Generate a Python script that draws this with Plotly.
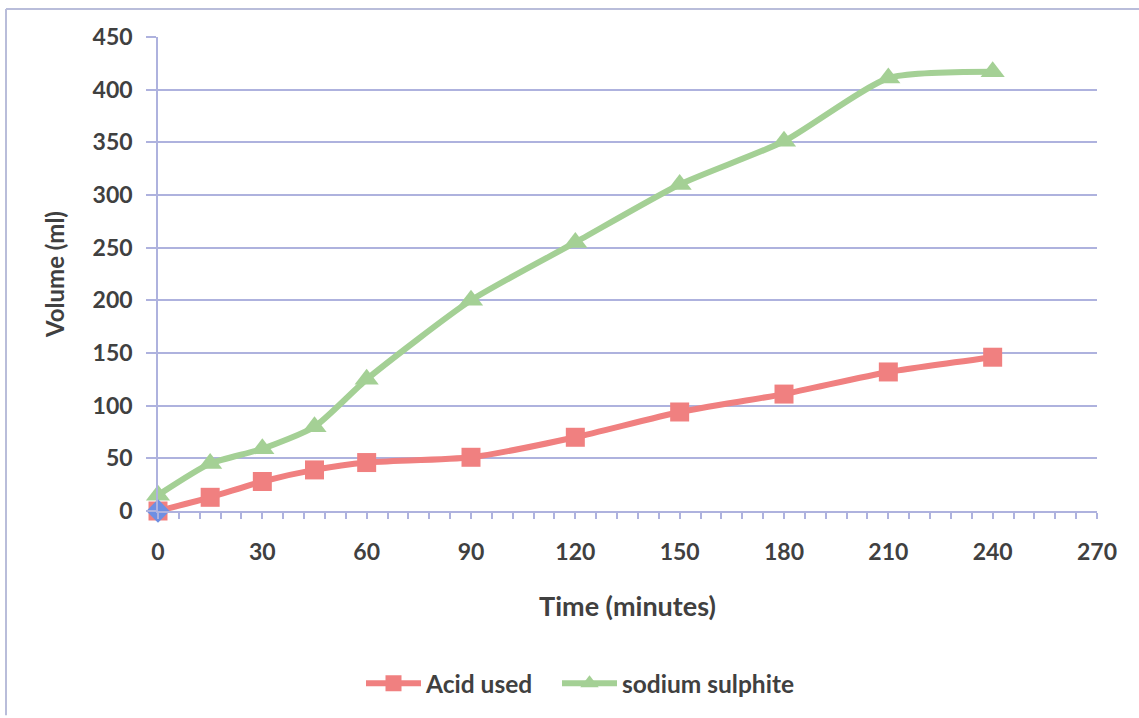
import plotly.graph_objects as go

time_min = [0, 15, 30, 45, 60, 90, 120, 150, 180, 210, 240]
acid_used = [0, 13, 28, 39, 46, 51, 70, 94, 111, 132, 146]
sodium_sulphite = [15, 45, 59, 80, 125, 200, 255, 310, 351, 411, 417]
origin_x = [0]
origin_y = [0]

RED = "#F08080"
GREEN = "#A4D095"
BLUE = "#6E8FE2"
GRID = "#AEB2DE"
TXT = "#404040"
FONT = "Lato"

fig = go.Figure()
fig.add_trace(go.Scatter(
    x=time_min, y=acid_used, name="Acid used", mode="lines+markers", cliponaxis=False,
    line=dict(color=RED, width=6, shape="spline", smoothing=0.6),
    marker=dict(symbol="square", size=19, color=RED), legend="legend",
))
fig.add_trace(go.Scatter(
    x=time_min, y=sodium_sulphite, name="sodium sulphite", mode="lines+markers", cliponaxis=False,
    line=dict(color=GREEN, width=6, shape="spline", smoothing=0.6),
    marker=dict(symbol="triangle-up", size=21, color=GREEN), legend="legend2",
))
fig.add_trace(go.Scatter(
    x=origin_x, y=origin_y, name="", mode="markers", showlegend=False, cliponaxis=False,
    marker=dict(symbol="diamond", size=18, color=BLUE),
))

L, R, T, B = 158, 1097, 37, 513
W, H = 1139, 718
pw, ph = R - L, B - T

leg_common = dict(orientation="h", xanchor="left", y=-(686 - B) / ph, yanchor="middle",
                  font=dict(family=FONT, size=24.5, color=TXT, weight="bold"),
                  itemwidth=55, bgcolor="rgba(0,0,0,0)")

fig.update_layout(
    width=W, height=H,
    margin=dict(l=L, r=W - R, t=T, b=H - B),
    paper_bgcolor="white", plot_bgcolor="white",
    font=dict(family=FONT, color=TXT),
    showlegend=True,
    legend=dict(x=(361 - L) / pw, **leg_common),
    legend2=dict(x=(557 - L) / pw, **leg_common),
    xaxis=dict(
        range=[0, 270], tickmode="linear", tick0=0, dtick=30,
        showgrid=False, zeroline=False,
        showline=True, linecolor=GRID, linewidth=2,
        ticks="outside", ticklen=6, tickcolor=GRID, tickwidth=1.5,
        minor=dict(dtick=6, ticks="outside", ticklen=6, tickcolor=GRID, tickwidth=1.5, showgrid=False),
        tickfont=dict(family=FONT, size=23, color=TXT, weight="bold"),
        ticklabelstandoff=13,
        title=dict(text="Time (minutes)", font=dict(family=FONT, size=27, color=TXT, weight="bold"), standoff=34),
    ),
    yaxis=dict(
        range=[0, 450], tickmode="linear", tick0=0, dtick=50,
        showgrid=True, gridcolor=GRID, gridwidth=1.5, zeroline=False,
        showline=True, linecolor=GRID, linewidth=1.5,
        ticks="outside", ticklen=10, tickcolor=GRID, tickwidth=1.5,
        tickfont=dict(family=FONT, size=23, color=TXT, weight="bold"),
        ticklabelstandoff=9,
        title=dict(text="Volume (ml)", font=dict(family=FONT, size=24, color=TXT, weight="bold"), standoff=21),
    ),
    shapes=[
        dict(type="line", xref="paper", yref="paper",
             x0=(6 - L) / pw, x1=(1139 - L) / pw, y0=(B - 9) / ph, y1=(B - 9) / ph,
             line=dict(color="#B9BDDA", width=2)),
        dict(type="line", xref="paper", yref="paper",
             x0=(6 - L) / pw, x1=(6 - L) / pw, y0=(B - 9) / ph, y1=(B - 718) / ph,
             line=dict(color="#B9BDDA", width=2)),
    ],
)

fig.write_html("out.html")
